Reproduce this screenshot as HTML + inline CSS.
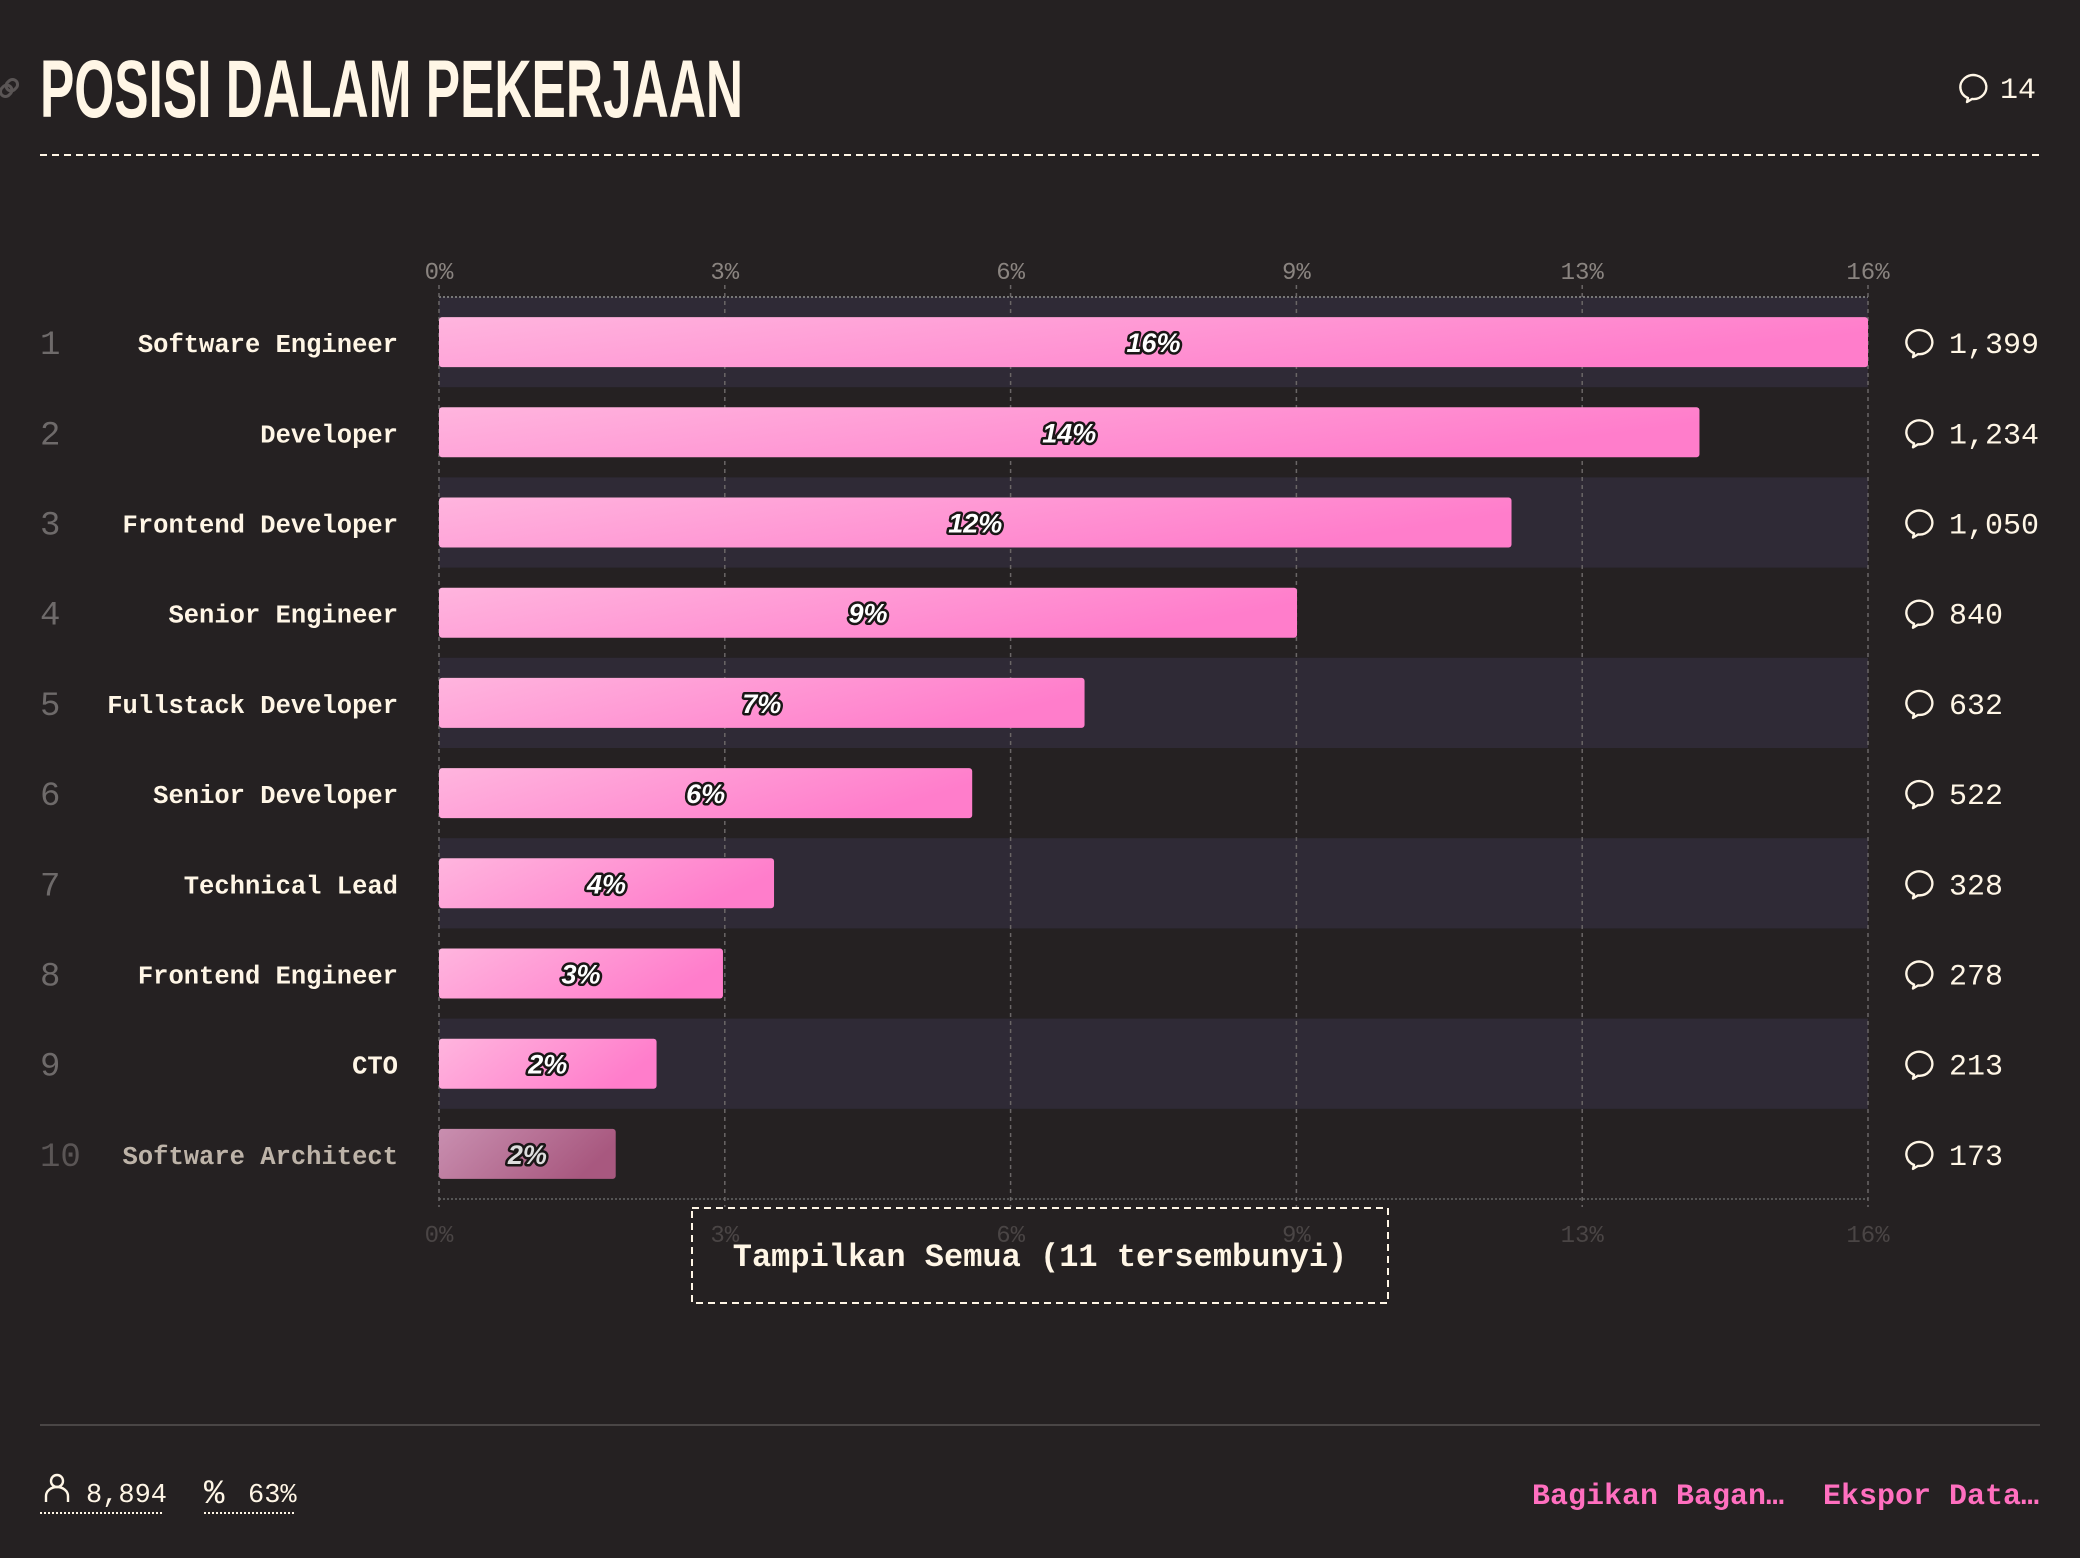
<!DOCTYPE html>
<html><head><meta charset="utf-8"><style>
html,body{margin:0;padding:0;background:#252122;}
svg{display:block}
</style></head><body>
<svg id="chart" width="2080" height="1558" viewBox="0 0 2080 1558" xmlns="http://www.w3.org/2000/svg">
<defs>
<linearGradient id="barGrad" x1="0" y1="0" x2="1" y2="0.3">
<stop offset="0" stop-color="#ffb5de"/><stop offset="1" stop-color="#ff7dcb"/>
</linearGradient>
<linearGradient id="barGradFade" x1="0" y1="0" x2="1" y2="0.3">
<stop offset="0" stop-color="#c98fb0"/><stop offset="1" stop-color="#a8587f"/>
</linearGradient>
</defs>
<rect width="2080" height="1558" fill="#252122"/>
<g transform="translate(9,88) rotate(-45)" fill="none" stroke="#5a5555" stroke-width="3">
<rect x="-10" y="-5" width="12" height="10" rx="5"/>
<rect x="-2" y="-5" width="12" height="10" rx="5"/>
</g>
<text x="40" y="117" textLength="703" lengthAdjust="spacingAndGlyphs" font-family="Liberation Sans, sans-serif" font-weight="bold" font-size="82" fill="#fff6e6">POSISI DALAM PEKERJAAN</text>
<g>
<path d="M1968 98 a13 12 0 1 1 4 1 l-5 3 z" fill="none" stroke="#fff6e6" stroke-width="2.4" stroke-linejoin="round"/>
<text x="2000" y="98" font-family="Liberation Mono, monospace" font-size="30" fill="#fff6e6">14</text>
</g>
<line x1="40" y1="155" x2="2040" y2="155" stroke="#fff6e6" stroke-width="2" stroke-dasharray="7,5"/>
<g id="plot"></g>
<g>
<rect x="692" y="1208" width="696" height="95" fill="none" stroke="#fff6e6" stroke-width="2" stroke-dasharray="7,5"/>
<text x="1040" y="1266" text-anchor="middle" font-family="Liberation Mono, monospace" font-weight="bold" font-size="32" fill="#fff6e6">Tampilkan Semua (11 tersembunyi)</text>
</g>
<line x1="40" y1="1425" x2="2040" y2="1425" stroke="#4a4646" stroke-width="2"/>
<g>
<circle cx="57" cy="1481" r="6" fill="none" stroke="#fff6e6" stroke-width="2.4"/>
<path d="M46 1502 v-6 a11 9 0 0 1 22 0 v6" fill="none" stroke="#fff6e6" stroke-width="2.4"/>
<text x="86" y="1502" font-family="Liberation Mono, monospace" font-size="27" fill="#fff6e6">8,894</text>
<line x1="40" y1="1513" x2="163" y2="1513" stroke="#fff6e6" stroke-width="2" stroke-dasharray="2,2"/>
</g>
<g>
<text x="204" y="1503" font-family="Liberation Mono, monospace" font-size="34" fill="#fff6e6">%</text>
<text x="248" y="1502" font-family="Liberation Mono, monospace" font-size="27" fill="#fff6e6">63%</text>
<line x1="204" y1="1513" x2="296" y2="1513" stroke="#fff6e6" stroke-width="2" stroke-dasharray="2,2"/>
</g>
<text x="1532" y="1504" font-family="Liberation Mono, monospace" font-weight="bold" font-size="30" fill="#ff6fbf">Bagikan Bagan…</text>
<text x="2039" y="1504" text-anchor="end" font-family="Liberation Mono, monospace" font-weight="bold" font-size="30" fill="#ff6fbf">Ekspor Data…</text>
</svg>
<script>
const categories = ["Software Engineer","Developer","Frontend Developer","Senior Engineer","Fullstack Developer","Senior Developer","Technical Lead","Frontend Engineer","CTO","Software Architect"];
const counts = [1399,1234,1050,840,632,522,328,278,213,173];
const totalRespondents = 8894;
const tickFractions = [0,0.2,0.4,0.6,0.8,1];

const NS = "http://www.w3.org/2000/svg";
const plot = document.getElementById('plot');
const plotX0 = 439, plotX1 = 1868, plotTop = 297, rowH = 90.2, barH = 50;
const pct = counts.map(c => c / totalRespondents * 100);
const maxPct = Math.max(...pct);
const xScale = v => plotX0 + (v / maxPct) * (plotX1 - plotX0);
const yRow = i => plotTop + i * rowH;
const plotBottom = yRow(categories.length);
function mk(tag, attrs, parent){ const e=document.createElementNS(NS,tag); for(const k in attrs) e.setAttribute(k,attrs[k]); (parent||plot).appendChild(e); return e; }

categories.forEach((c,i)=>{
  if(i%2===0){
    const band = mk('rect',{x:plotX0,y:yRow(i),width:plotX1-plotX0,height:rowH,fill:'#2f2a36'});
    
    
  }
});
mk('line',{x1:plotX0,y1:plotTop,x2:plotX1,y2:plotTop,stroke:'#777',"stroke-width":2,"stroke-dasharray":"2,2"});
mk('line',{x1:plotX0,y1:plotBottom,x2:plotX1,y2:plotBottom,stroke:'#555',"stroke-width":2,"stroke-dasharray":"2,2"});
tickFractions.forEach(f=>{
  const v = f*maxPct, x = xScale(v);
  const g = mk('line',{x1:x,y1:plotTop-12,x2:x,y2:plotBottom+8,stroke:'#6a6666',"stroke-width":1.5,"stroke-dasharray":"4,4"});
  
  
  const lbl = Math.round(v)+'%';
  const t = mk('text',{x:x,y:279,"text-anchor":"middle","font-family":"Liberation Mono, monospace","font-size":24,fill:'#8a8480'}); t.textContent=lbl;
  
  
  const tb = mk('text',{x:x,y:1242,"text-anchor":"middle","font-family":"Liberation Mono, monospace","font-size":24,fill:'#4a4545'}); tb.textContent=lbl;
  
  
});
categories.forEach((c,i)=>{
  const cy = yRow(i)+rowH/2;
  const faded = i===categories.length-1;
  const r = mk('text',{x:40,y:cy+12,"font-family":"Liberation Mono, monospace","font-size":34,fill:faded?'#5a5555':'#6e6a6a'}); r.textContent=String(i+1);
  
  
  const l = mk('text',{x:398,y:cy+10,"text-anchor":"end","font-family":"Liberation Mono, monospace","font-weight":"bold","font-size":25.5,fill:faded?'#bdb3a8':'#fff6e6'}); l.textContent=c;
  
  
  const w = xScale(pct[i])-plotX0;
  const b = mk('rect',{x:plotX0,y:cy-barH/2,width:w,height:barH,rx:3,fill:faded?'url(#barGradFade)':'url(#barGrad)'});
  
  
  const p = mk('text',{x:plotX0+w/2,y:cy+10,"text-anchor":"middle","font-family":"Liberation Sans, sans-serif","font-weight":"bold","font-style":"italic","font-size":27,fill:faded?'#ddd':'#fff',stroke:'#1a1616',"stroke-width":5,"paint-order":"stroke","stroke-linejoin":"round"}); p.textContent=Math.round(pct[i])+'%';
  
  
  const ic = mk('path',{d:`M${1914} ${cy+11} a13 12 0 1 1 4 1 l-5 3 z`,fill:'none',stroke:'#fff6e6',"stroke-width":2.4,"stroke-linejoin":"round"});
  
  
  const n = mk('text',{x:1949,y:cy+11,"font-family":"Liberation Mono, monospace","font-size":30,fill:'#fff6e6'}); n.textContent=counts[i].toLocaleString('en-US');
  
  
});
</script>
</body></html>
